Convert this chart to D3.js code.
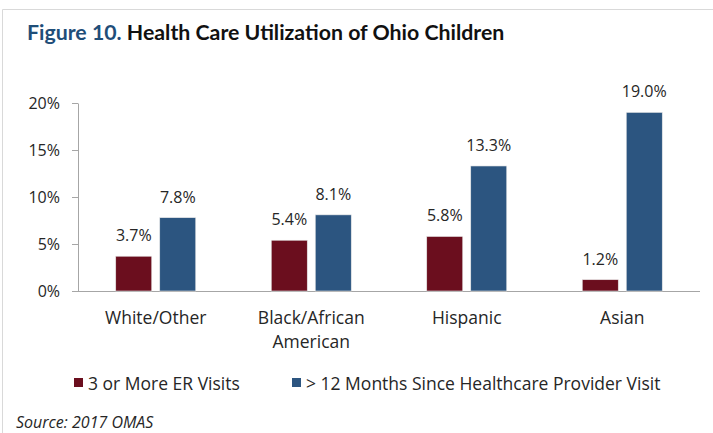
<!DOCTYPE html>
<html>
<head>
<meta charset="utf-8">
<script src="https://cdn.jsdelivr.net/npm/d3@7"></script>
<style>
  html, body { margin: 0; padding: 0; background: #fff; }
  svg { display: block; }
</style>
</head>
<body>
<svg id="chart" width="713" height="433"></svg>
<script>
// Health care utilization of Ohio children, by race/ethnicity (2017 OMAS)
const categories = [["White/Other"], ["Black/African", "American"], ["Hispanic"], ["Asian"]];
const seriesNames = ["3 or More ER Visits", "> 12 Months Since Healthcare Provider Visit"];
const erVisits = [3.7, 5.4, 5.8, 1.2];
const noProviderVisit = [7.8, 8.1, 13.3, 19.0];
const yTicks = [0, 5, 10, 15, 20];
const colors = ["#6b0e1e", "#2c5580"];

const svg = d3.select("#chart");
const font = "'Open Sans', sans-serif";
const textColor = "#262626";

// frame
svg.append("line").attr("x1", 2.5).attr("x2", 713).attr("y1", 9.5).attr("y2", 9.5)
  .attr("stroke", "#d9d9d9").attr("stroke-width", 1);
svg.append("line").attr("x1", 2.5).attr("x2", 2.5).attr("y1", 9.5).attr("y2", 433)
  .attr("stroke", "#d9d9d9").attr("stroke-width", 1);

// title
const title = svg.append("text").attr("x", 27).attr("y", 40)
  .attr("font-family", "Lato, sans-serif").attr("font-weight", "bold").attr("font-size", 21.3);
title.append("tspan").attr("fill", "#1f4e79").text("Figure 10. ");
title.append("tspan").attr("fill", "#111").text("Health Care Utilization of Ohio Children");

const x0 = d3.scaleBand().domain(d3.range(categories.length)).range([78, 700]);
const y = d3.scaleLinear().domain([0, 20]).range([291, 103]);
const barW = 36, gap = 8;

// y axis
const yAxis = svg.append("g").attr("transform", "translate(78,0)")
  .call(d3.axisLeft(y).tickValues(yTicks).tickSize(6).tickFormat(d => d + "%"));
yAxis.select(".domain").attr("stroke", "#a6a6a6").attr("d", "M0.5,103.5V291.5");
yAxis.selectAll(".tick line").attr("stroke", "#a6a6a6");
yAxis.selectAll(".tick text").attr("font-family", font).attr("font-size", 16)
  .attr("fill", textColor).attr("x", -18).attr("dy", "0.35em");

// x baseline
svg.append("line").attr("x1", 78).attr("x2", 700).attr("y1", y(0) + 0.5).attr("y2", y(0) + 0.5)
  .attr("stroke", "#a6a6a6");

const series = [erVisits, noProviderVisit];
series.forEach((vals, si) => {
  const g = svg.append("g");
  vals.forEach((v, i) => {
    const cx = x0(i) + x0.bandwidth() / 2;
    const bx = si === 0 ? cx - gap / 2 - barW : cx + gap / 2;
    g.append("rect").attr("x", bx).attr("y", y(v)).attr("width", barW).attr("height", y(0) - y(v))
      .attr("fill", colors[si]).attr("stroke", "#e8e8e8").attr("stroke-width", 0.6);
    g.append("text").attr("x", bx + barW / 2).attr("y", y(v) - 15)
      .attr("text-anchor", "middle").attr("font-family", font).attr("font-size", 16)
      .attr("fill", textColor).text(v.toFixed(1) + "%");
  });
});

// category labels
categories.forEach((lines, i) => {
  const cx = x0(i) + x0.bandwidth() / 2;
  const t = svg.append("text").attr("text-anchor", "middle").attr("font-family", font)
    .attr("font-size", 17.5).attr("fill", textColor);
  lines.forEach((ln, li) => {
    t.append("tspan").attr("x", cx).attr("y", 324 + li * 23.5).text(ln);
  });
});

// legend
const legendX = [74, 292];
seriesNames.forEach((name, si) => {
  svg.append("rect").attr("x", legendX[si]).attr("y", 378).attr("width", 9).attr("height", 9)
    .attr("fill", colors[si]);
  svg.append("text").attr("x", legendX[si] + 14).attr("y", 390).attr("font-family", font)
    .attr("font-size", 17.5).attr("fill", textColor).text(name);
});

// source note
svg.append("text").attr("x", 16).attr("y", 428).attr("font-family", font).attr("font-style", "italic")
  .attr("font-size", 16).attr("fill", textColor).text("Source: 2017 OMAS");
</script>
</body>
</html>
